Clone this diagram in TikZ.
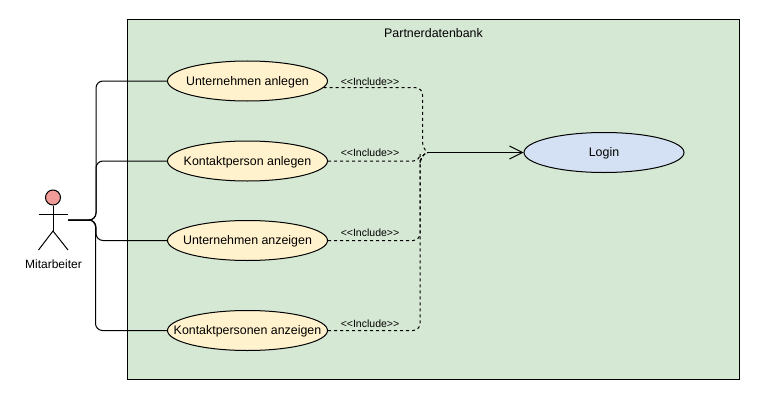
\documentclass[tikz,border=0pt]{standalone}
\usepackage{fontspec}
\setmainfont{Liberation Sans}
\usetikzlibrary{calc,shapes.geometric,arrows.meta}
\definecolor{boxgreen}{HTML}{D5E8D4}
\definecolor{caseyellow}{HTML}{FFF2CC}
\definecolor{loginblue}{HTML}{D4E1F5}
\definecolor{headred}{HTML}{F19C99}

\begin{document}
\begin{tikzpicture}[x=1pt,y=-1pt,line width=1pt,
  use case/.style={draw,ellipse,fill=caseyellow,minimum width=160pt,minimum height=40pt,inner xsep=-30pt,inner ysep=-10pt,text height=9pt,text depth=1pt,font=\fontsize{12.4}{14}\selectfont},
  include label/.style={font=\fontsize{10.5}{12}\selectfont,inner sep=0pt},
  actor line/.style={rounded corners=7pt},
  include line/.style={dash pattern=on 3pt off 3pt,rounded corners=7pt}]
  \useasboundingbox (0,0) rectangle (781,412);
  \draw[fill=boxgreen] (127.5,19.5) rectangle (739.5,379.5);
  \node[font=\fontsize{12.4}{14}\selectfont] (title) at (433.5,33.5) {Partnerdatenbank};

  \node[use case] (case 1) at (247.5,81) {Unternehmen anlegen};
  \node[use case] (case 2) at (247.5,161) {Kontaktperson anlegen};
  \node[use case] (case 3) at (247.5,240.5) {Unternehmen anzeigen};
  \node[use case] (case 4) at (247.5,330.5) {Kontaktpersonen anzeigen};
  \node[use case,fill=loginblue] (login) at (604,152.5) {Login};

  % actor
  \node[draw,circle,fill=headred,minimum size=15pt,inner sep=0pt] (head) at (53,197.5) {};
  \coordinate (hip) at (53,231);
  \coordinate (hand) at (68,220);
  \draw (head) -- (hip);
  \draw (38.5,214.5) -- (68,214.5);
  \draw (38.5,250) -- (hip) -- (68,250);
  \node[font=\fontsize{12}{14}\selectfont] (name) at (53.5,264.5) {Mitarbeiter};

  \draw[actor line] (hand) -- ++(28,0) |- (case 1.west);
  \draw[actor line] (hand) -- ++(28,0) |- (case 2.west);
  \draw[actor line] (hand) -- ++(28,0) |- (case 3.west);
  \draw[actor line] (hand) -- ++(27.5,0) |- (case 4.west);

  \coordinate (join) at (427,152.5);
  \draw[include line] (case 1.-5) -| ($ (join) + (-4.5,-4) $) -- (join);
  \draw[include line] (case 2.east) -| ($ (join) + (-7,4) $) -- (join);
  \draw[include line] (case 3.east) -| ($ (join) + (-7,4) $) -- (join);
  \draw[include line] (case 4.east) -| ($ (join) + (-7,4) $) -- (join);
  \draw[-{Straight Barb[length=13pt,width=13pt]}] (join) -- (login.west);

  \node[include label] (include 1) at (370,81.5) {<\kern0pt<Include>\kern0pt>};
  \node[include label] (include 2) at (370,152.5) {<\kern0pt<Include>\kern0pt>};
  \node[include label] (include 3) at (370,232.5) {<\kern0pt<Include>\kern0pt>};
  \node[include label] (include 4) at (370,323.5) {<\kern0pt<Include>\kern0pt>};
\end{tikzpicture}
\end{document}
